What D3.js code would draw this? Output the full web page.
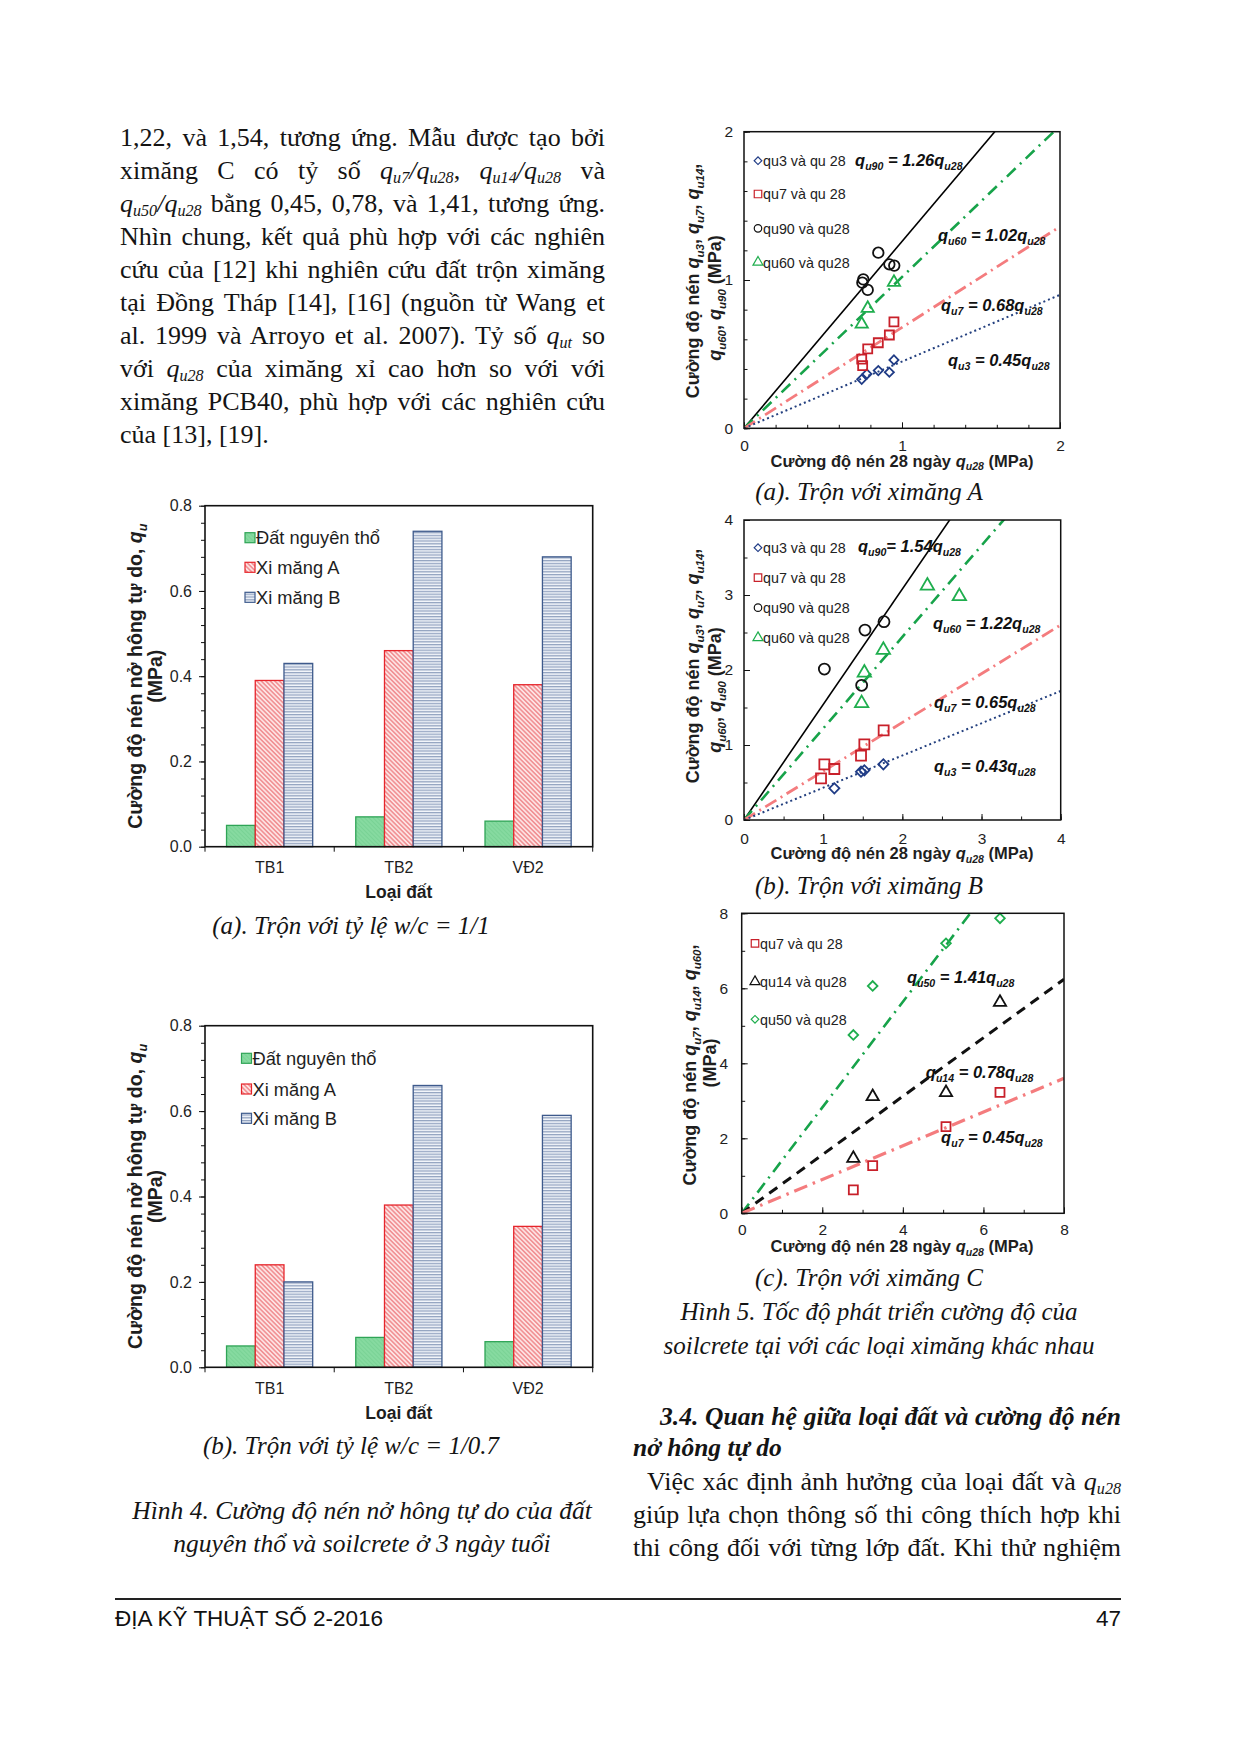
<!DOCTYPE html>
<html>
<head>
<meta charset="utf-8">
<script src="https://cdn.jsdelivr.net/npm/d3@7"></script>
<style>
html,body{margin:0;padding:0;background:#fff;}
#page{position:relative;width:1240px;height:1754px;overflow:hidden;background:#fff;}
#chart{position:absolute;left:0;top:0;}
.ln{position:absolute;font-family:"Liberation Serif","Times New Roman",serif;font-size:26px;line-height:33px;height:33px;color:#141414;text-align:justify;text-align-last:justify;white-space:normal;}
.ln.last{text-align-last:left;}
.ln.head{font-weight:bold;font-style:italic;font-size:25.5px;}
.ln sub{font-size:0.62em;vertical-align:-0.22em;line-height:0;}
</style>
</head>
<body>
<div id="page"><svg id="chart" width="1240" height="1754"></svg></div>
<script>
// ================= DATA =================
const soilTypes = ["TB1", "TB2", "VĐ2"];
const barSeriesNames = ["Đất nguyên thổ", "Xi măng A", "Xi măng B"];
const barYTicks = [0.0, 0.2, 0.4, 0.6, 0.8];
// Hình 4a: w/c = 1/1
const wc11_natural = [0.05, 0.07, 0.06];
const wc11_cementA = [0.39, 0.46, 0.38];
const wc11_cementB = [0.43, 0.74, 0.68];
// Hình 4b: w/c = 1/0.7
const wc07_natural = [0.05, 0.07, 0.06];
const wc07_cementA = [0.24, 0.38, 0.33];
const wc07_cementB = [0.20, 0.66, 0.59];

// Hình 5a: ximăng A  [qu28, qut]
const cemA_qu3  = [[0.745,0.330],[0.778,0.366],[0.850,0.389],[0.920,0.378],[0.949,0.461]];
const cemA_qu7  = [[0.745,0.467],[0.751,0.422],[0.783,0.535],[0.850,0.577],[0.920,0.629],[0.949,0.717]];
const cemA_qu90 = [[0.749,0.982],[0.755,1.004],[0.783,0.933],[0.850,1.184],[0.920,1.106],[0.951,1.097]];
const cemA_qu60 = [[0.745,0.703],[0.783,0.809],[0.949,0.984]];
const cemA_slopes = [1.26, 1.02, 0.68, 0.45];   // qu90, qu60, qu7, qu3
const cemA_legend = ["qu3 và qu 28", "qu7 và qu 28", "qu90 và qu28", "qu60 và qu28"];
const cemA_ticks = [0, 1, 2];

// Hình 5b: ximăng B
const cemB_qu3  = [[1.141,0.422],[1.478,0.644],[1.520,0.662],[1.760,0.742]];
const cemB_qu7  = [[0.973,0.556],[1.015,0.742],[1.141,0.680],[1.478,0.858],[1.520,1.009],[1.764,1.196]];
const cemB_qu90 = [[1.015,2.013],[1.486,1.796],[1.528,2.533],[1.768,2.644]];
const cemB_qu60 = [[1.486,1.556],[1.520,1.964],[1.760,2.267],[2.316,3.124],[2.720,2.982]];
const cemB_slopes = [1.54, 1.22, 0.65, 0.43];
const cemB_legend = ["qu3 và qu 28", "qu7 và qu 28", "qu90 và qu28", "qu60 và qu28"];
const cemB_ticks = [0, 1, 2, 3, 4];

// Hình 5c: ximăng C
const cemC_qu7  = [[2.771,0.622],[3.251,1.271],[5.071,2.311],[6.411,3.227]];
const cemC_qu14 = [[2.771,1.467],[3.251,3.111],[5.071,3.218],[6.411,5.627]];
const cemC_qu50 = [[2.771,4.756],[3.251,6.062],[5.071,7.200],[6.411,7.867]];
const cemC_slopes = [1.41, 0.78, 0.45];   // qu50, qu14, qu7
const cemC_legend = ["qu7 và qu 28", "qu14 và qu28", "qu50 và qu28"];
const cemC_ticks = [0, 2, 4, 6, 8];

// Body text lines
const leftLines = [
  "1,22, và 1,54, tương ứng. Mẫu được tạo bởi",
  "ximăng C có tỷ số <i>q<sub>u7</sub>/q<sub>u28</sub></i>, <i>q<sub>u14</sub>/q<sub>u28</sub></i> và",
  "<i>q<sub>u50</sub>/q<sub>u28</sub></i> bằng 0,45, 0,78, và 1,41, tương ứng.",
  "Nhìn chung, kết quả phù hợp với các nghiên",
  "cứu của [12] khi nghiên cứu đất trộn ximăng",
  "tại Đồng Tháp [14], [16] (nguồn từ Wang et",
  "al. 1999 và Arroyo et al. 2007). Tỷ số <i>q<sub>ut</sub></i> so",
  "với <i>q<sub>u28</sub></i> của ximăng xỉ cao hơn so với với",
  "ximăng PCB40, phù hợp với các nghiên cứu",
  "của [13], [19]."
];
const rightLines = [
  {t:"3.4. Quan hệ giữa loại đất và cường độ nén", cls:"head", x:660, b:1425},
  {t:"nở hông tự do", cls:"head last", x:633, b:1456},
  {t:"Việc xác định ảnh hưởng của loại đất và <i>q<sub>u28</sub></i>", cls:"", x:647, b:1490},
  {t:"giúp lựa chọn thông số thi công thích hợp khi", cls:"", x:633, b:1523},
  {t:"thi công đối với từng lớp đất. Khi thử nghiệm", cls:"", x:633, b:1556.5}
];

// ================= TEXT (HTML) =================
const page = d3.select("#page");
leftLines.forEach((t, i) => {
  page.append("div").attr("class", "ln" + (i === leftLines.length - 1 ? " last" : ""))
    .style("left", "120px").style("width", "485px")
    .style("top", (146 + i * 33.0 - 25.4) + "px").html(t);
});
rightLines.forEach(d => {
  page.append("div").attr("class", "ln " + d.cls)
    .style("left", d.x + "px").style("width", (1121 - d.x) + "px")
    .style("top", (d.b - 25.4) + "px").html(d.t);
});

// ================= SVG =================
const svg = d3.select("#chart");
const defs = svg.append("defs");
const SANS = "'Liberation Sans', Arial, sans-serif";
const SERIF = "'Liberation Serif', 'Times New Roman', serif";

// patterns
(function(){
  const g = defs.append("pattern").attr("id","patGreen").attr("patternUnits","userSpaceOnUse")
    .attr("width",3).attr("height",3).attr("patternTransform","rotate(-45)");
  g.append("rect").attr("width",3).attr("height",3).attr("fill","#86daa0");
  g.append("line").attr("x1",0).attr("y1",0).attr("x2",0).attr("y2",3).attr("stroke","#6ccb8a").attr("stroke-width",1);
  const r = defs.append("pattern").attr("id","patRed").attr("patternUnits","userSpaceOnUse")
    .attr("width",3.2).attr("height",3.2).attr("patternTransform","rotate(-45)");
  r.append("rect").attr("width",3.2).attr("height",3.2).attr("fill","#fde3e3");
  r.append("line").attr("x1",0.8).attr("y1",0).attr("x2",0.8).attr("y2",3.2).attr("stroke","#f0878a").attr("stroke-width",1.4);
  const b = defs.append("pattern").attr("id","patBlue").attr("patternUnits","userSpaceOnUse")
    .attr("width",4).attr("height",2.8);
  b.append("rect").attr("width",4).attr("height",2.8).attr("fill","#f3f6fb");
  b.append("line").attr("x1",0).attr("y1",0.7).attr("x2",4).attr("y2",0.7).attr("stroke","#8294b6").attr("stroke-width",1.1);
})();

// rich text: "q_u28" -> italic q + subscript
function rich(textSel, str, fs, allItalic) {
  const re = /q_([A-Za-z0-9]+)/g;
  let last = 0, m, pend = 0;
  const sh = fs * 0.24;
  const plain = s => { const t = textSel.append("tspan").text(s); if (pend) { t.attr("dy", -pend); pend = 0; } };
  while ((m = re.exec(str))) {
    if (m.index > last) plain(str.slice(last, m.index));
    const q = textSel.append("tspan").text("q").attr("font-style","italic");
    if (pend) { q.attr("dy", -pend); pend = 0; }
    textSel.append("tspan").text(m[1]).attr("font-style","italic").attr("font-size", fs*0.64).attr("dy", sh);
    pend = sh;
    last = re.lastIndex;
  }
  if (last < str.length) plain(str.slice(last));
  if (allItalic) textSel.attr("font-style","italic");
}

function styleAxis(sel, fs) {
  sel.attr("font-family", SANS).attr("font-size", fs);
  sel.selectAll("text").attr("fill", "#1e1e1e");
  sel.selectAll("line").attr("stroke", "#111").attr("stroke-width", 1);
  sel.select(".domain").remove();
}

// ---------------- BAR CHART ----------------
function barChart(c) {
  const g = svg.append("g");
  const x = d3.scaleBand().domain(soilTypes).range([c.left, c.right]).padding(0);
  const bw = x.bandwidth();
  const sub = d3.scaleBand().domain([0,1,2]).range([bw/6, bw*5/6]).padding(0);
  const y = d3.scaleLinear().domain([0, 0.8]).range([c.bottom, c.top]);
  const series = [c.natural, c.cementA, c.cementB];
  const fills = ["url(#patGreen)", "url(#patRed)", "url(#patBlue)"];
  const strokes = ["#2fa456", "#e6252b", "#3e5a8c"];

  // minor y ticks
  g.append("g").attr("transform", `translate(${c.left},0)`)
    .call(d3.axisLeft(y).tickValues(d3.range(0, 0.8001, 0.04)).tickSize(4).tickFormat(""))
    .call(s => styleAxis(s, 16));
  g.append("g").attr("transform", `translate(${c.left},0)`)
    .call(d3.axisLeft(y).tickValues(barYTicks).tickSize(6).tickPadding(7).tickFormat(d3.format(".1f")))
    .call(s => styleAxis(s, 16));
  // category boundary ticks
  const bounds = soilTypes.map(d => x(d)).concat([x(soilTypes[soilTypes.length-1]) + bw]);
  g.selectAll(".bt").data(bounds).join("line")
    .attr("x1", d => d).attr("x2", d => d).attr("y1", c.bottom).attr("y2", c.bottom + 5)
    .attr("stroke", "#111").attr("stroke-width", 1);
  g.append("g").attr("transform", `translate(0,${c.bottom})`)
    .call(d3.axisBottom(x).tickSize(0).tickPadding(15))
    .call(s => styleAxis(s, 16));

  // bars
  series.forEach((vals, si) => {
    g.selectAll(null).data(vals).join("rect")
      .attr("x", (d, i) => x(soilTypes[i]) + sub(si))
      .attr("y", d => y(d))
      .attr("width", sub.bandwidth())
      .attr("height", d => y(0) - y(d))
      .attr("fill", fills[si]).attr("stroke", strokes[si]).attr("stroke-width", 1.3);
  });
  // frame
  g.append("rect").attr("x", c.left).attr("y", c.top).attr("width", c.right - c.left).attr("height", c.bottom - c.top)
    .attr("fill", "none").attr("stroke", "#111").attr("stroke-width", 1.6);

  // legend
  barSeriesNames.forEach((name, i) => {
    const cy = c.legY[i];
    g.append("rect").attr("x", c.legX).attr("y", cy - 5).attr("width", 10).attr("height", 10)
      .attr("fill", fills[i]).attr("stroke", strokes[i]).attr("stroke-width", 1.2);
    g.append("text").attr("x", c.legX + 11).attr("y", cy + 6.5).attr("font-family", SANS)
      .attr("font-size", 18.3).attr("fill", "#1e1e1e").text(name);
  });

  // axis titles
  g.append("text").attr("x", (c.left + c.right) / 2).attr("y", c.bottom + 51.5).attr("text-anchor", "middle")
    .attr("font-family", SANS).attr("font-weight", "bold").attr("font-size", 17.5).attr("fill", "#1e1e1e").text("Loại đất");
  const yc = (c.top + c.bottom) / 2;
  const t1 = g.append("text").attr("transform", `translate(${c.left - 70},${yc}) rotate(-90)`).attr("text-anchor", "middle")
    .attr("dy", "0.35em").attr("font-family", SANS).attr("font-weight", "bold").attr("font-size", 19.5).attr("fill", "#1e1e1e");
  rich(t1, "Cường độ nén nở hông tự do, q_u", 19.5);
  g.append("text").attr("transform", `translate(${c.left - 49.5},${yc}) rotate(-90)`).attr("text-anchor", "middle")
    .attr("dy", "0.35em").attr("font-family", SANS).attr("font-weight", "bold").attr("font-size", 19.5).attr("fill", "#1e1e1e").text("(MPa)");

  // caption
  g.append("text").attr("x", 351).attr("y", c.caption).attr("text-anchor", "middle")
    .attr("font-family", SERIF).attr("font-style", "italic").attr("font-size", 25).attr("fill", "#141414").text(c.captionText);
}

barChart({left:205, right:592.7, top:505.7, bottom:846.7, natural:wc11_natural, cementA:wc11_cementA, cementB:wc11_cementB,
  legX:245, legY:[537.7, 567.3, 597.3], caption:934, captionText:"(a). Trộn với tỷ lệ w/c = 1/1"});
barChart({left:205, right:592.7, top:1025.7, bottom:1367.3, natural:wc07_natural, cementA:wc07_cementA, cementB:wc07_cementB,
  legX:241.5, legY:[1058.3, 1089, 1118.3], caption:1454, captionText:"(b). Trộn với tỷ lệ w/c = 1/0.7"});

// ---------------- SCATTER ----------------
const COL = {navy:"#203c86", red:"#c8202a", black:"#111111", green:"#1fae4e", salmon:"#f47c7e", greenLine:"#17a34a", navyLine:"#24407f"};

function marker(sel, shape, color, s) {
  let p;
  if (shape === "diamond") p = sel.append("path").attr("d", d3.symbol(d3.symbolSquare, (s*0.72)*(s*0.72))());
  else if (shape === "square") p = sel.append("path").attr("d", d3.symbol(d3.symbolSquare, s*s)());
  else if (shape === "circle") p = sel.append("path").attr("d", d3.symbol(d3.symbolCircle, Math.PI*(s/2)*(s/2))());
  else p = sel.append("path").attr("d", d3.symbol(d3.symbolTriangle, 0.43*s*s*1.25)());
  p.attr("fill", "none").attr("stroke", color).attr("stroke-width", 1.8);
  return p;
}

function scatter(c) {
  const g = svg.append("g");
  const x = d3.scaleLinear().domain([0, c.max]).range([c.left, c.right]);
  const y = d3.scaleLinear().domain([0, c.max]).range([c.bottom, c.top]);
  const clipId = "clip" + c.id;
  defs.append("clipPath").attr("id", clipId).append("rect")
    .attr("x", c.left).attr("y", c.top).attr("width", c.right - c.left).attr("height", c.bottom - c.top);

  const minorVals = d3.range(0, c.max + 1e-9, c.minor);
  g.append("g").attr("transform", `translate(0,${c.bottom})`)
    .call(d3.axisBottom(x).tickValues(minorVals).tickSize(-3.5).tickFormat("")).call(s => styleAxis(s, 15.5));
  g.append("g").attr("transform", `translate(${c.left},0)`)
    .call(d3.axisLeft(y).tickValues(minorVals).tickSize(-3.5).tickFormat("")).call(s => styleAxis(s, 15.5));
  g.append("g").attr("transform", `translate(0,${c.bottom})`)
    .call(d3.axisBottom(x).tickValues(c.ticks).tickSize(-6).tickPadding(c.xPad).tickFormat(d3.format("d")))
    .call(s => styleAxis(s, 15.5));
  g.append("g").attr("transform", `translate(${c.left},0)`)
    .call(d3.axisLeft(y).tickValues(c.ticks).tickSize(-6).tickPadding(c.yPad).tickFormat(d3.format("d")))
    .call(s => styleAxis(s, 15.5));

  // fit lines
  const lg = g.append("g").attr("clip-path", `url(#${clipId})`);
  c.fits.forEach(f => {
    lg.append("line").attr("x1", x(0)).attr("y1", y(0)).attr("x2", x(c.max)).attr("y2", y(f.slope * c.max))
      .attr("stroke", f.color).attr("stroke-width", f.width).attr("stroke-dasharray", f.dash || null);
  });

  // points
  c.series.forEach(sr => {
    sr.data.forEach(d => {
      const p = marker(g, sr.shape, sr.color, sr.size);
      p.attr("transform", `translate(${x(d[0])},${y(d[1])})` + (sr.shape === "diamond" ? " rotate(45)" : ""));
    });
  });

  // frame
  g.append("rect").attr("x", c.left).attr("y", c.top).attr("width", c.right - c.left).attr("height", c.bottom - c.top)
    .attr("fill", "none").attr("stroke", "#111").attr("stroke-width", 1.5);

  // legend
  c.legend.forEach((name, i) => {
    const sr = c.legendSeries[i];
    const cy = c.legY[i];
    const p = marker(g, sr.shape, sr.color, sr.shape === "triangle" ? 9 : 7.5);
    p.attr("stroke-width", 1.2).attr("transform", `translate(${c.legX},${cy})` + (sr.shape === "diamond" ? " rotate(45)" : ""));
    g.append("text").attr("x", c.legX + 5).attr("y", cy + 5.2).attr("font-family", SANS).attr("font-size", 14.3)
      .attr("fill", "#222").text(name);
  });

  // equation labels
  c.labels.forEach(l => {
    const t = g.append("text").attr("x", x(l.x)).attr("y", y(l.y)).attr("font-family", SANS)
      .attr("font-weight", "bold").attr("font-size", 16.5).attr("fill", "#111");
    rich(t, l.text, 16.5, true);
  });

  // axis titles
  const xt = g.append("text").attr("x", 902).attr("y", c.xTitleY).attr("text-anchor", "middle").attr("font-family", SANS)
    .attr("font-weight", "bold").attr("font-size", 16.5).attr("fill", "#1e1e1e");
  rich(xt, "Cường độ nén 28 ngày q_u28 (MPa)", 16.5);
  c.yTitle.forEach(yt => {
    const t = g.append("text").attr("transform", `translate(${yt.x},${yt.y}) rotate(-90)`).attr("text-anchor", "middle")
      .attr("dy", "0.35em").attr("font-family", SANS).attr("font-weight", "bold").attr("font-size", 18).attr("fill", "#1e1e1e");
    rich(t, yt.text, 18);
  });

  // caption
  c.caption.forEach(cp => {
    g.append("text").attr("x", cp.x).attr("y", cp.y).attr("text-anchor", "middle").attr("font-family", SERIF)
      .attr("font-style", "italic").attr("font-size", 25).attr("fill", "#141414").text(cp.text);
  });
}

const eq = (k, s, sep) => `q_${k}${sep || " = "}${s.toFixed(2)}q_u28`;
const solid = c => ({color:c, width:1.6});
const dashDot = (c, w) => ({color:c, width:w, dash:"12,6,2,6"});
const dashDotDot = (c, w) => ({color:c, width:w, dash:"13,5,2,5"});
const dotted = (c, w) => ({color:c, width:w, dash:"2,3"});

const serA = [
  {data:cemA_qu3, shape:"diamond", color:COL.navy, size:9},
  {data:cemA_qu7, shape:"square", color:COL.red, size:9},
  {data:cemA_qu90, shape:"circle", color:COL.black, size:10.5},
  {data:cemA_qu60, shape:"triangle", color:COL.green, size:11}
];
scatter({id:"A", left:744, right:1060, top:131.7, bottom:428.3, max:2, ticks:cemA_ticks, minor:0.2, xPad:12, yPad:11,
  series:serA, legendSeries:serA, legend:cemA_legend, legX:758, legY:[160.7, 194, 228.3, 262.3],
  fits:[Object.assign(solid("#000"), {slope:cemA_slopes[0]}), Object.assign(dashDot(COL.greenLine, 2.6), {slope:cemA_slopes[1]}),
        Object.assign(dashDotDot(COL.salmon, 2.8), {slope:cemA_slopes[2]}), Object.assign(dotted(COL.navyLine, 2), {slope:cemA_slopes[3]})],
  labels:[{text:eq("u90", cemA_slopes[0]), x:0.703, y:1.769}, {text:eq("u60", cemA_slopes[1]), x:1.228, y:1.263},
          {text:eq("u7", cemA_slopes[2]), x:1.247, y:0.791}, {text:eq("u3", cemA_slopes[3]), x:1.291, y:0.42}],
  xTitleY:466.5,
  yTitle:[{x:693, y:281, text:"Cường độ nén q_u3, q_u7, q_u14,"}, {x:715, y:298, text:"q_u60, q_u90 (MPa)"}],
  caption:[{x:869, y:500, text:"(a). Trộn với ximăng A"}]
});

const serB = [
  {data:cemB_qu3, shape:"diamond", color:COL.navy, size:10},
  {data:cemB_qu7, shape:"square", color:COL.red, size:10},
  {data:cemB_qu90, shape:"circle", color:COL.black, size:11},
  {data:cemB_qu60, shape:"triangle", color:COL.green, size:12}
];
scatter({id:"B", left:744, right:1060.7, top:520, bottom:820, max:4, ticks:cemB_ticks, minor:0.5, xPad:12.5, yPad:11,
  series:serB, legendSeries:serB, legend:cemB_legend, legX:758, legY:[547.7, 577.7, 607.7, 637.7],
  fits:[Object.assign(solid("#000"), {slope:cemB_slopes[0]}), Object.assign(dashDot(COL.greenLine, 2.6), {slope:cemB_slopes[1]}),
        Object.assign(dashDotDot(COL.salmon, 2.8), {slope:cemB_slopes[2]}), Object.assign(dotted(COL.navyLine, 2), {slope:cemB_slopes[3]})],
  labels:[{text:eq("u90", cemB_slopes[0], "= "), x:1.44, y:3.573}, {text:eq("u60", cemB_slopes[1]), x:2.386, y:2.547},
          {text:eq("u7", cemB_slopes[2]), x:2.40, y:1.493}, {text:eq("u3", cemB_slopes[3]), x:2.40, y:0.64}],
  xTitleY:859,
  yTitle:[{x:693, y:666, text:"Cường độ nén q_u3, q_u7, q_u14,"}, {x:715, y:690, text:"q_u60, q_u90 (MPa)"}],
  caption:[{x:869, y:894, text:"(b). Trộn với ximăng B"}]
});

const serC = [
  {data:cemC_qu7, shape:"square", color:COL.red, size:9},
  {data:cemC_qu14, shape:"triangle", color:COL.black, size:11},
  {data:cemC_qu50, shape:"diamond", color:COL.green, size:9.5}
];
scatter({id:"C", left:741.7, right:1064, top:913.3, bottom:1213.3, max:8, ticks:cemC_ticks, minor:1, xPad:10.5, yPad:13.5,
  series:serC, legendSeries:serC, legend:cemC_legend, legX:755, legY:[943.3, 981.7, 1019.3],
  fits:[Object.assign(dashDot(COL.greenLine, 2.6), {slope:cemC_slopes[0]}), Object.assign({color:"#111", width:3, dash:"10,7"}, {slope:cemC_slopes[1]}),
        Object.assign({color:COL.salmon, width:3.2, dash:"14,6,2.5,6"}, {slope:cemC_slopes[2]})],
  labels:[{text:eq("u50", cemC_slopes[0]), x:4.10, y:6.14}, {text:eq("u14", cemC_slopes[1]), x:4.57, y:3.61},
          {text:eq("u7", cemC_slopes[2]), x:4.95, y:1.875}],
  xTitleY:1252,
  yTitle:[{x:690, y:1065, text:"Cường độ nén q_u7, q_u14, q_u60,"}, {x:710, y:1063, text:"(MPa)"}],
  caption:[{x:869, y:1286, text:"(c). Trộn với ximăng C"},
           {x:879, y:1320, text:"Hình 5. Tốc độ phát triển cường độ của"},
           {x:879, y:1354, text:"soilcrete tại với các loại ximăng khác nhau"}]
});

// Hình 4 caption
[["Hình 4. Cường độ nén nở hông tự do của đất", 1519], ["nguyên thổ và soilcrete ở 3 ngày tuổi", 1552]].forEach(([t, yy]) => {
  svg.append("text").attr("x", 362).attr("y", yy).attr("text-anchor", "middle").attr("font-family", SERIF)
    .attr("font-style", "italic").attr("font-size", 25.5).attr("fill", "#141414").text(t);
});

// footer
svg.append("line").attr("x1", 115).attr("x2", 1121).attr("y1", 1599).attr("y2", 1599).attr("stroke", "#222").attr("stroke-width", 2);
svg.append("text").attr("x", 115).attr("y", 1626).attr("font-family", SANS).attr("font-size", 22.5).attr("fill", "#111").text("ĐỊA KỸ THUẬT SỐ 2-2016");
svg.append("text").attr("x", 1121).attr("y", 1626).attr("text-anchor", "end").attr("font-family", SANS).attr("font-size", 22.5).attr("fill", "#111").text("47");
</script>
</body>
</html>
